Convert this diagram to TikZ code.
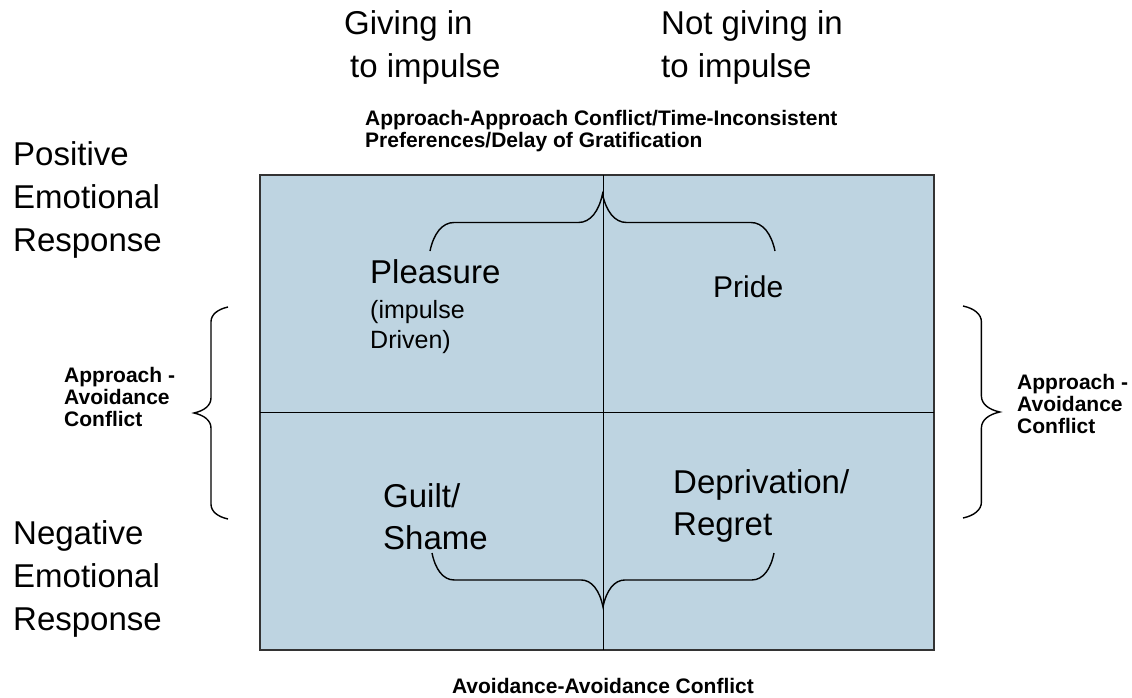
\documentclass[tikz,border=0pt]{standalone}
\usepackage{fontspec}
\setmainfont{Liberation Sans}
\usepackage{tikz}
\usetikzlibrary{decorations.pathreplacing}
\definecolor{quadfill}{RGB}{190,212,225}
\def\bigfont{\fontsize{33pt}{43pt}\selectfont}
\def\midfont{\fontsize{25pt}{30pt}\selectfont}
\def\boldfont{\fontsize{21pt}{22pt}\selectfont\bfseries}

\begin{document}
\begin{tikzpicture}[bigtext/.style={font=\bigfont, inner sep=0pt, anchor=base west, align=left}, smalltext/.style={font=\midfont, inner sep=0pt, anchor=base west, align=left}, conflict/.style={font=\boldfont, inner sep=0pt, anchor=base west, align=left}, bracket/.style={decorate, line width=1.4pt, decoration={brace, amplitude=#1}}]
	\useasboundingbox (0pt, 0pt) rectangle (1132pt, -698pt);
	% the four quadrants
	\draw[fill=quadfill, draw=black!80, line width=1.3pt] (260.0pt, -175.0pt) rectangle (934.0pt, -650.0pt);
	\coordinate (top) at (603.0pt, -175.0pt);
	\coordinate (bottom) at (603.0pt, -650.0pt);
	\coordinate (left) at (260.0pt, -412.0pt);
	\coordinate (right) at (934.0pt, -412.0pt);
	\draw[line width=1pt] (top) -- (bottom);
	\draw[line width=1pt] (left) -- (right);
	% headings (anchored at the last line)
	\draw (344.0pt, -78.0pt)node[bigtext](give){Giving in\\\hspace{6pt}to impulse};
	\draw (661.0pt, -78.0pt)node[bigtext](notgive){Not giving in\\to impulse};
	\draw (365.0pt, -147.0pt)node[conflict](appapp){Approach-Approach Conflict/Time-Inconsistent\\Preferences/Delay of Gratification};
	\draw (13.0pt, -251.0pt)node[bigtext](pos){Positive\\Emotional\\Response};
	\draw (13.0pt, -630.0pt)node[bigtext](neg){Negative\\Emotional\\Response};
	\draw (64.0pt, -426.0pt)node[conflict](appavl){Approach -\\Avoidance\\Conflict};
	\draw (1017.0pt, -433.0pt)node[conflict](appavr){Approach -\\Avoidance\\Conflict};
	\draw (603.0pt, -693.0pt)node[conflict, anchor=base](avav){Avoidance-Avoidance Conflict};
	% quadrant texts
	\draw (370.0pt, -283.0pt)node[bigtext](pleasure){Pleasure};
	\draw (370.0pt, -348.0pt)node[smalltext](impulse){(impulse\\Driven)};
	\draw (713.0pt, -297.0pt)node[bigtext, font=\fontsize{30pt}{40pt}\selectfont](pride){Pride};
	\draw (383.0pt, -549.0pt)node[bigtext, font=\fontsize{33pt}{42pt}\selectfont](guilt){Guilt/\\Shame};
	\draw (673.0pt, -535.0pt)node[bigtext, font=\fontsize{33pt}{42pt}\selectfont](depr){Deprivation/\\Regret};
	% braces
	\draw[bracket=24pt, decoration={transform={yscale=2.375}}] (430.0pt, -251.0pt) -- (775.0pt, -251.0pt);
	\draw[bracket=22pt, decoration={transform={yscale=2.45}}] (774.0pt, -553.0pt) -- (432.0pt, -553.0pt);
	\draw[bracket=15pt, decoration={transform={yscale=2.27}}] (228.0pt, -519.0pt) -- (228.0pt, -307.0pt);
	\draw[bracket=16pt, decoration={transform={yscale=2.3}}] (963.0pt, -306.0pt) -- (963.0pt, -518.0pt);
\end{tikzpicture}
\end{document}
